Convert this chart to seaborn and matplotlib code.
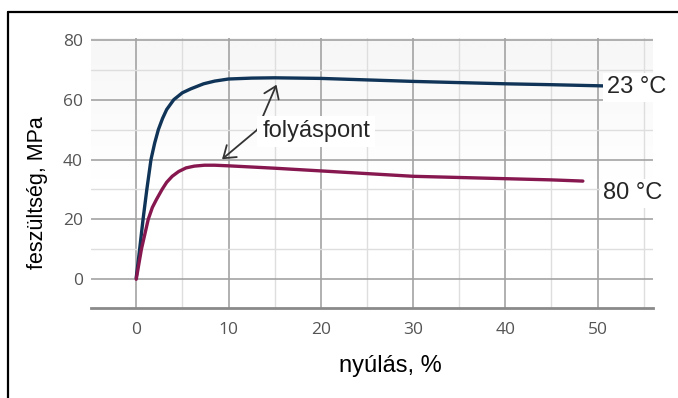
import numpy as np
import pandas as pd
import matplotlib
matplotlib.use("Agg")
import matplotlib.pyplot as plt
import seaborn as sns
from matplotlib.lines import Line2D

# ---- data ----
x_23 = [0, 0.37, 0.74, 1.15, 1.6, 2.0, 2.4, 2.85, 3.3, 4.07, 5.0, 5.9, 7.3, 8.5, 10, 12.5, 15, 20, 25, 30, 35, 40, 45, 50.6]
y_23 = [0.5, 10, 20, 30, 40, 45.5, 50, 53.7, 56.7, 60, 62.3, 63.6, 65.3, 66.2, 66.9, 67.2, 67.3, 67.1, 66.6, 66.1, 65.7, 65.3, 65.0, 64.6]
x_80 = [0, 0.56, 1.3, 1.75, 2.2, 2.8, 3.3, 3.9, 4.6, 5.4, 6.3, 7.4, 8.5, 10, 15, 20, 25, 30, 35, 40, 45, 48.4]
y_80 = [0, 10, 20, 24, 26.7, 30, 32.4, 34.4, 36.0, 37.2, 37.8, 38.1, 38.1, 37.9, 37.1, 36.2, 35.3, 34.4, 34.0, 33.6, 33.2, 32.8]
series_labels = ["23 °C", "80 °C"]
x_ticks = [0, 10, 20, 30, 40, 50]
y_ticks = [0, 20, 40, 60, 80]
x_label = "nyúlás, %"
y_label = "feszültség, MPa"
annot_label = "folyáspont"

df = pd.concat([
    pd.DataFrame({"x": x_23, "y": y_23, "s": series_labels[0]}),
    pd.DataFrame({"x": x_80, "y": y_80, "s": series_labels[1]}),
])

sns.set_style("white")
plt.rcParams["font.family"] = ["Liberation Sans", "DejaVu Sans"]

fig = plt.figure(figsize=(6.78, 3.98), dpi=100)
ax = fig.add_axes([91 / 678, 1 - 308 / 398, 562 / 678, 270 / 398])

# background gradient
grad = np.linspace(0, 1, 256).reshape(-1, 1)
grad = np.clip((grad - 0.45) / 0.55, 0, 1)
ax.imshow(grad, extent=[0, 1, 0, 1], transform=ax.transAxes, cmap="Greys",
          vmin=0, vmax=14, aspect="auto", origin="lower", zorder=0)

palette = {series_labels[0]: "#0f3457", series_labels[1]: "#86174f"}
sns.lineplot(data=df, x="x", y="y", hue="s", palette=palette, sort=False,
             estimator=None, linewidth=2.4, legend=False, ax=ax, zorder=5)
for ln in ax.get_lines():
    ln.set_solid_joinstyle("round")
    ln.set_solid_capstyle("round")

ax.set_xlim(-4.9, 56.0)
ax.set_ylim(-9.6, 80.6)
ax.set_xticks(x_ticks)
ax.set_yticks(y_ticks)
ax.set_xticks([5, 15, 25, 35, 45, 55], minor=True)
ax.set_yticks([10, 30, 50, 70], minor=True)
ax.grid(which="major", color="#a3a3a3", linewidth=1.2, zorder=1)
ax.grid(which="minor", color="#dedede", linewidth=1.0, zorder=1)
ax.set_axisbelow(True)
for s in ["left", "right", "top"]:
    ax.spines[s].set_visible(False)
ax.spines["bottom"].set_color("#8a8a8a")
ax.spines["bottom"].set_linewidth(2.0)
ax.tick_params(axis="both", which="both", length=0)
ax.tick_params(axis="x", pad=10)
ax.tick_params(axis="y", pad=6)
for lab in ax.get_xticklabels() + ax.get_yticklabels():
    lab.set_fontfamily("Open Sans")
    lab.set_fontsize(12.5)
    lab.set_color("#555555")

ax.set_xlabel(x_label, fontsize=17, color="black")
ax.set_ylabel(y_label, fontsize=15.5, color="black")
ax.xaxis.label.set_va("center")
ax.xaxis.set_label_coords((390 - 91) / 562, (308 - 366) / 270)
ax.yaxis.label.set_va("center")
ax.yaxis.set_label_coords((38 - 91) / 562, (308 - 193) / 270)

# annotation arrows
kink = (13.1, 49.9)
for tip in [(15.2, 65.0), (9.3, 40.1)]:
    ax.annotate("", xy=tip, xytext=kink,
                arrowprops=dict(arrowstyle="->,head_length=0.5,head_width=0.35",
                                color="#333333", lw=1.3,
                                mutation_scale=16, shrinkA=0, shrinkB=0),
                zorder=6)
ax.text(13.65, 49.4, annot_label, fontsize=17, ha="left", va="center", zorder=7,
        bbox=dict(boxstyle="square,pad=0.2", fc="white", ec="none"))

ax.text(51.0, 62.2, series_labels[0], fontsize=17, ha="left", va="baseline", zorder=7,
        clip_on=False, bbox=dict(boxstyle="square,pad=0.15", fc="white", ec="none"))
ax.text(50.6, 26.8, series_labels[1], fontsize=17, ha="left", va="baseline", zorder=7,
        clip_on=False, bbox=dict(boxstyle="square,pad=0.15", fc="white", ec="none"))

# figure border (left and top visible)
fy = 1 - 11.5 / 398
fx = 8 / 678
fig.add_artist(Line2D([fx, fx], [0, fy], transform=fig.transFigure, color="black", lw=1.6))
fig.add_artist(Line2D([fx, 1], [fy, fy], transform=fig.transFigure, color="black", lw=1.6))

fig.savefig("out.png", dpi=100)
